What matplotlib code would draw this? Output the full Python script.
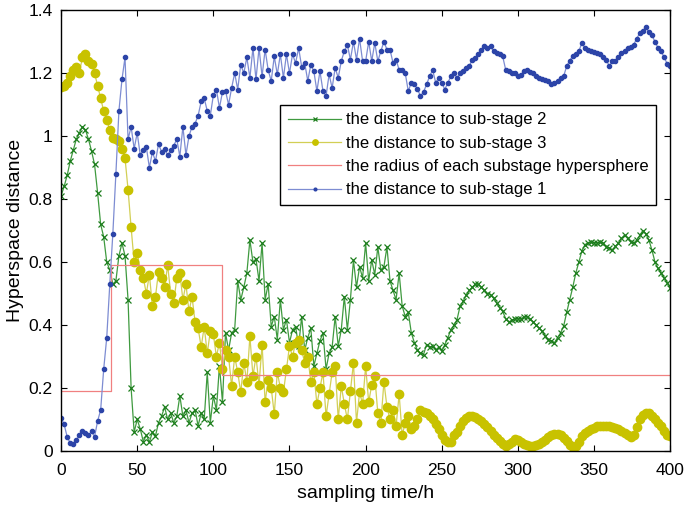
import numpy as np
import matplotlib
matplotlib.use("Agg")
import matplotlib.pyplot as plt

plt.rcParams['font.family'] = ['Liberation Sans', 'DejaVu Sans']

# sampling time (h), one value every 2 h
hours = np.arange(0, 401, 2)

# distance to sub-stage 1 (blue)
dist_stage1 = [
    0.105, 0.085, 0.045, 0.025, 0.022, 0.035, 0.050, 0.062, 0.058, 0.050,
    0.062, 0.045, 0.095, 0.130, 0.260, 0.360, 0.530, 0.690, 0.880, 1.080,
    1.180, 1.250, 0.990, 1.030, 0.960, 1.010, 0.940, 0.955, 0.965, 0.900,
    0.950, 0.920, 0.975, 0.950, 0.960, 0.940, 0.955, 0.970, 0.990, 0.935,
    1.030, 0.940, 1.000, 1.030, 1.040, 1.065, 1.110, 1.120, 1.080, 1.065,
    1.130, 1.148, 1.090, 1.140, 1.143, 1.100, 1.153, 1.200, 1.148, 1.227,
    1.200, 1.250, 1.185, 1.280, 1.180, 1.280, 1.190, 1.275, 1.210, 1.175,
    1.253, 1.196, 1.260, 1.185, 1.260, 1.200, 1.260, 1.232, 1.280, 1.220,
    1.232, 1.175, 1.227, 1.206, 1.143, 1.206, 1.143, 1.127, 1.196, 1.153,
    1.217, 1.185, 1.238, 1.270, 1.290, 1.243, 1.300, 1.243, 1.310, 1.238,
    1.238, 1.300, 1.238, 1.296, 1.238, 1.270, 1.300, 1.275, 1.275, 1.232,
    1.243, 1.210, 1.210, 1.200, 1.143, 1.170, 1.164, 1.150, 1.127, 1.140,
    1.164, 1.190, 1.210, 1.170, 1.185, 1.170, 1.148, 1.170, 1.190, 1.200,
    1.185, 1.200, 1.206, 1.215, 1.222, 1.243, 1.248, 1.260, 1.275, 1.285,
    1.280, 1.285, 1.270, 1.264, 1.260, 1.253, 1.210, 1.206, 1.200, 1.200,
    1.190, 1.195, 1.206, 1.210, 1.205, 1.200, 1.190, 1.185, 1.180, 1.178,
    1.175, 1.164, 1.170, 1.175, 1.185, 1.190, 1.222, 1.240, 1.255, 1.260,
    1.270, 1.296, 1.280, 1.275, 1.270, 1.266, 1.264, 1.260, 1.250, 1.243,
    1.222, 1.238, 1.240, 1.250, 1.264, 1.270, 1.280, 1.283, 1.290, 1.310,
    1.327, 1.335, 1.345, 1.330, 1.320, 1.300, 1.280, 1.270, 1.250, 1.230,
    1.222,
]

# distance to sub-stage 2 (green)
dist_stage2 = [
    0.810, 0.840, 0.875, 0.920, 0.955, 0.990, 1.010, 1.030, 1.020, 0.990,
    0.953, 0.910, 0.820, 0.720, 0.680, 0.600, 0.575, 0.530, 0.540, 0.620,
    0.660, 0.620, 0.480, 0.200, 0.060, 0.100, 0.070, 0.030, 0.050, 0.028,
    0.060, 0.048, 0.090, 0.110, 0.140, 0.100, 0.120, 0.090, 0.110, 0.175,
    0.110, 0.130, 0.090, 0.120, 0.130, 0.080, 0.120, 0.100, 0.250, 0.090,
    0.175, 0.130, 0.270, 0.155, 0.375, 0.320, 0.375, 0.385, 0.540, 0.480,
    0.520, 0.565, 0.670, 0.600, 0.610, 0.540, 0.660, 0.480, 0.530, 0.395,
    0.427, 0.354, 0.480, 0.385, 0.417, 0.344, 0.385, 0.395, 0.333, 0.427,
    0.320, 0.360, 0.390, 0.270, 0.310, 0.350, 0.375, 0.260, 0.310, 0.330,
    0.427, 0.333, 0.385, 0.490, 0.385, 0.480, 0.606, 0.520, 0.585, 0.550,
    0.660, 0.540, 0.606, 0.560, 0.648, 0.575, 0.585, 0.648, 0.540, 0.510,
    0.480, 0.565, 0.460, 0.427, 0.440, 0.375, 0.344, 0.320, 0.310, 0.306,
    0.338, 0.330, 0.333, 0.320, 0.330, 0.317, 0.338, 0.360, 0.385, 0.400,
    0.417, 0.460, 0.475, 0.495, 0.510, 0.520, 0.530, 0.530, 0.520, 0.510,
    0.500, 0.496, 0.485, 0.470, 0.455, 0.443, 0.420, 0.410, 0.415, 0.420,
    0.420, 0.420, 0.425, 0.427, 0.420, 0.410, 0.400, 0.390, 0.380, 0.365,
    0.354, 0.350, 0.344, 0.360, 0.375, 0.396, 0.440, 0.480, 0.520, 0.565,
    0.600, 0.635, 0.655, 0.662, 0.664, 0.662, 0.661, 0.664, 0.660, 0.648,
    0.645, 0.638, 0.650, 0.660, 0.675, 0.685, 0.675, 0.664, 0.660, 0.670,
    0.685, 0.700, 0.690, 0.670, 0.638, 0.600, 0.580, 0.565, 0.550, 0.535,
    0.518,
]

# distance to sub-stage 3 (yellow)
dist_stage3 = [
    1.155, 1.160, 1.170, 1.190, 1.210, 1.220, 1.200, 1.250, 1.260, 1.240,
    1.230, 1.200, 1.160, 1.120, 1.080, 1.050, 1.020, 0.995, 0.990, 0.985,
    0.960, 0.930, 0.830, 0.710, 0.600, 0.630, 0.575, 0.550, 0.500, 0.560,
    0.460, 0.490, 0.570, 0.550, 0.520, 0.590, 0.500, 0.470, 0.550, 0.565,
    0.480, 0.530, 0.443, 0.490, 0.410, 0.390, 0.330, 0.395, 0.310, 0.380,
    0.370, 0.300, 0.344, 0.260, 0.320, 0.300, 0.206, 0.300, 0.250, 0.186,
    0.280, 0.220, 0.364, 0.238, 0.300, 0.210, 0.338, 0.155, 0.227, 0.200,
    0.117, 0.250, 0.200, 0.186, 0.260, 0.333, 0.300, 0.344, 0.354, 0.320,
    0.280, 0.300, 0.220, 0.250, 0.148, 0.200, 0.250, 0.110, 0.180, 0.250,
    0.270, 0.100, 0.206, 0.150, 0.100, 0.190, 0.280, 0.090, 0.186, 0.150,
    0.270, 0.155, 0.210, 0.238, 0.120, 0.090, 0.220, 0.140, 0.100, 0.130,
    0.080, 0.180, 0.050, 0.090, 0.110, 0.070, 0.080, 0.100, 0.130, 0.125,
    0.120, 0.110, 0.100, 0.085, 0.070, 0.050, 0.035, 0.028, 0.030, 0.050,
    0.060, 0.080, 0.096, 0.105, 0.110, 0.112, 0.108, 0.100, 0.095, 0.085,
    0.075, 0.065, 0.050, 0.040, 0.033, 0.022, 0.017, 0.022, 0.030, 0.038,
    0.035, 0.030, 0.022, 0.018, 0.017, 0.017, 0.018, 0.022, 0.028, 0.036,
    0.045, 0.050, 0.054, 0.054, 0.050, 0.040, 0.032, 0.020, 0.013, 0.015,
    0.030, 0.048, 0.058, 0.065, 0.070, 0.074, 0.078, 0.080, 0.080, 0.080,
    0.078, 0.075, 0.072, 0.070, 0.065, 0.058, 0.050, 0.044, 0.050, 0.075,
    0.100, 0.115, 0.122, 0.120, 0.110, 0.100, 0.090, 0.080, 0.065, 0.052,
    0.048,
]

# radius of each substage hypersphere (piecewise constant)
stage_bounds = [0, 33, 106, 400]
stage_radius = [0.19, 0.59, 0.24]

fig = plt.figure(figsize=(6.86, 5.09), dpi=100)
ax = fig.add_axes([0.089, 0.114, 0.888, 0.866])

ax.plot(hours, dist_stage2, color='#3f9a3f', lw=0.9, marker='x', ms=4.5,
        mec='#1c7d1c', mew=0.9, label='the distance to sub-stage 2')
ax.plot(hours, dist_stage3, color='#d2cf55', lw=0.9, marker='o', ms=6,
        mfc='#c8c200', mec='#c8c200', label='the distance to sub-stage 3')
ax.step(stage_bounds, stage_radius + [stage_radius[-1]], where='post',
        color='#f08080', lw=0.9, label='the radius of each substage hypersphere')
ax.plot(hours, dist_stage1, color='#7d8cd2', lw=0.9, marker='o', ms=3,
        mfc='#2c44a8', mec='#2c44a8', label='the distance to sub-stage 1')

ax.set_xlim(0, 400)
ax.set_ylim(0, 1.4)
ax.set_xticks(np.arange(0, 401, 50))
ax.set_yticks([0, 0.2, 0.4, 0.6, 0.8, 1.0, 1.2, 1.4])
ax.set_yticklabels(['0', '0.2', '0.4', '0.6', '0.8', '1', '1.2', '1.4'])
ax.tick_params(direction='in', top=True, right=True, labelsize=12.5,
               length=4, pad=6)
ax.tick_params(axis='x', pad=9)
for s in ax.spines.values():
    s.set_linewidth(1.0)

ax.set_xlabel('sampling time/h', fontsize=14, labelpad=5)
ax.set_ylabel('Hyperspace distance', fontsize=14, labelpad=3)

leg = ax.legend(loc='upper left', bbox_to_anchor=(0.36, 0.785), fontsize=12,
                fancybox=False, edgecolor='black', framealpha=1,
                handlelength=3.2, handletextpad=0.3, labelspacing=0.5,
                markerscale=0.65, borderpad=0.45, borderaxespad=0)
leg.get_frame().set_linewidth(1.0)

fig.savefig('out.png', dpi=100)
